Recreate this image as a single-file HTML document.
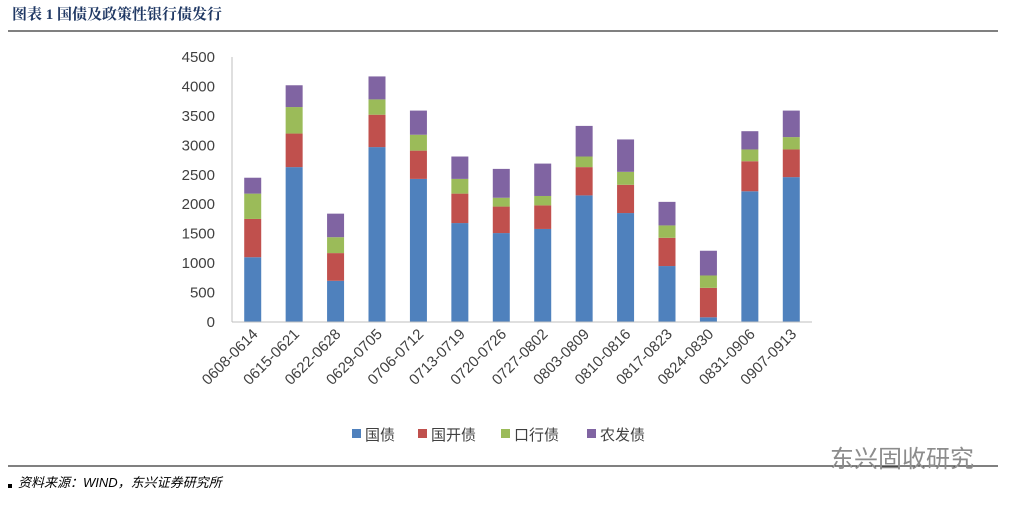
<!DOCTYPE html>
<html><head><meta charset="utf-8">
<style>
body{margin:0;width:1014px;height:501px;background:#fff;overflow:hidden;font-family:"Liberation Sans","Noto Sans CJK SC",sans-serif;}
</style></head><body>
<svg id="c" width="1014" height="501" xmlns="http://www.w3.org/2000/svg">
<text x="12" y="19" font-size="15" font-weight="bold" fill="#1f3864" font-family="Liberation Serif, Noto Serif CJK SC, serif">图表  1  国债及政策性银行债发行</text>
<line x1="8" y1="31" x2="998" y2="31" stroke="#000" stroke-width="1"/>
<line x1="8" y1="466" x2="998" y2="466" stroke="#000" stroke-width="1"/>
<rect x="8" y="484" width="4" height="4" fill="#000"/>
<text x="18" y="487" font-size="13" font-style="italic" fill="#000">资料来源：WIND，东兴证券研究所</text>
<text x="830" y="467" font-size="24" fill="#8c8c8c">东兴固收研究</text>
<g id="plot"></g>
</svg>
<script>
const categories=["0608-0614","0615-0621","0622-0628","0629-0705","0706-0712","0713-0719","0720-0726","0727-0802","0803-0809","0810-0816","0817-0823","0824-0830","0831-0906","0907-0913"];
const guozhai=[1100,2630,700,2970,2430,1680,1510,1580,2150,1850,950,80,2220,2460];
const guokai=[650,570,470,550,480,500,450,400,480,480,480,500,510,470];
const kouhang=[430,450,270,260,270,250,150,160,180,220,210,210,200,210];
const nongfa=[270,370,400,390,410,380,490,550,520,550,400,420,310,450];
const yTicks=[0,500,1000,1500,2000,2500,3000,3500,4000,4500];
const seriesNames=["国债","国开债","口行债","农发债"];
const colors=["#4F81BD","#C0504D","#9BBB59","#8064A2"];
const series=[guozhai,guokai,kouhang,nongfa];
const NS="http://www.w3.org/2000/svg";
const g=document.getElementById('plot');
const x0=232,x1=812,y0=322,y1=57,ymax=4500;
const y=v=>y0-(v/ymax)*(y0-y1);
const step=(x1-x0)/categories.length;
const xc=i=>x0+step*(i+0.5);
function mk(t,a){const e=document.createElementNS(NS,t);for(const k in a)e.setAttribute(k,a[k]);g.appendChild(e);return e;}
yTicks.forEach(v=>{const t=mk('text',{x:215,y:y(v)+5,'text-anchor':'end','font-size':15,fill:'#404040'});t.textContent=v;

});
categories.forEach((c,i)=>{let acc=0;
series.forEach((s,k)=>{const r=mk('rect',{x:xc(i)-8.5,y:y(acc+s[i]),width:17,height:y(acc)-y(acc+s[i]),fill:colors[k]});

acc+=s[i];});
const t=mk('text',{x:xc(i)+6,y:335,'text-anchor':'end','font-size':15,fill:'#404040',transform:`rotate(-45 ${xc(i)+6} 335)`});t.textContent=c;

});
const ax=mk('line',{x1:x0,y1:y0,x2:x1,y2:y0,stroke:'#bfbfbf'});


const ay=mk('line',{x1:x0,y1:y0,x2:x0,y2:y1,stroke:'#bfbfbf'});


const lx=[352,418,501,587];
seriesNames.forEach((n,k)=>{const r=mk('rect',{x:lx[k],y:429,width:9,height:9,fill:colors[k]});


const t=mk('text',{x:lx[k]+13,y:440,'font-size':15,fill:'#404040'});t.textContent=n;

});
</script>
</body></html>
